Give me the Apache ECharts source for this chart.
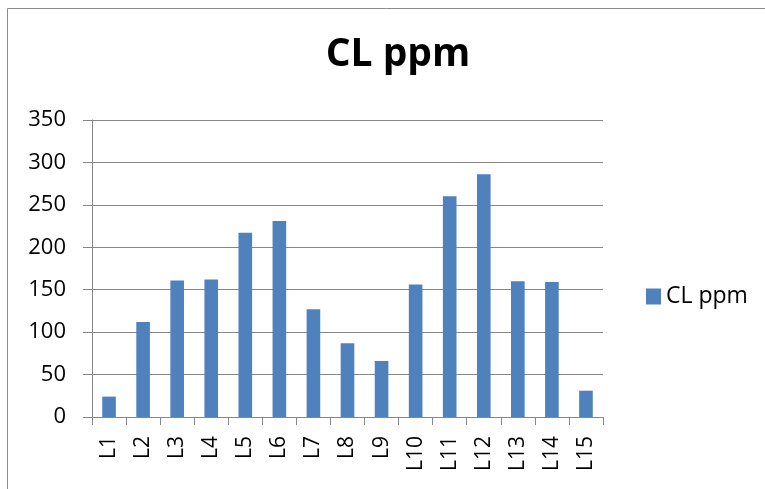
<!DOCTYPE html>
<html><head><meta charset="utf-8">
<script src="https://cdn.jsdelivr.net/npm/echarts@6/dist/echarts.min.js"></script>
<style>html,body{margin:0;padding:0;background:#fff;}#c{width:765px;height:489px;}</style>
</head><body><div id="c"></div>
<script>
var categories = ['L1','L2','L3','L4','L5','L6','L7','L8','L9','L10','L11','L12','L13','L14','L15'];
var clValues = [24,112,161,162,217,231,127,87,66,156,260,286,160,159,31];
var seriesName = 'CL ppm';
var titleText = 'CL ppm';
var font = 'Open Sans';
var chart = echarts.init(document.getElementById('c'));
chart.setOption({
  animation:false,
  backgroundColor:'#fff',
  graphic:[{type:'rect',shape:{x:7.5,y:8.5,width:800,height:600},style:{fill:'none',stroke:'#8c8c8c',lineWidth:1}}],
  title:{text:titleText,left:398,top:35,padding:0,textAlign:'center',textStyle:{fontFamily:font,fontWeight:'bold',fontSize:39,color:'#000'}},
  legend:{data:[seriesName],left:646,top:285,padding:0,orient:'vertical',itemWidth:15,itemHeight:16,itemGap:4,icon:'rect',
    textStyle:{fontFamily:font,fontSize:23,color:'#000',padding:[0,0,0,0]}},
  grid:{left:92,right:162,top:120,bottom:72,containLabel:false},
  xAxis:{type:'category',data:categories,boundaryGap:true,
    axisLine:{lineStyle:{color:'#868686',width:1}},
    axisTick:{show:true,alignWithLabel:false,length:8,lineStyle:{color:'#868686'}},
    axisLabel:{rotate:90,fontFamily:font,fontSize:21,color:'#000',margin:19,interval:0}},
  yAxis:{type:'value',min:0,max:350,interval:50,
    axisLine:{show:true,lineStyle:{color:'#868686',width:1}},
    axisTick:{show:true,length:9,lineStyle:{color:'#868686'}},
    splitLine:{lineStyle:{color:'#868686',width:1}},
    axisLabel:{fontFamily:font,fontSize:22,color:'#000',margin:26}},
  series:[{name:seriesName,type:'bar',data:clValues,barWidth:'40%',
    itemStyle:{color:'#4f81bd'}}]
});
</script></body></html>
